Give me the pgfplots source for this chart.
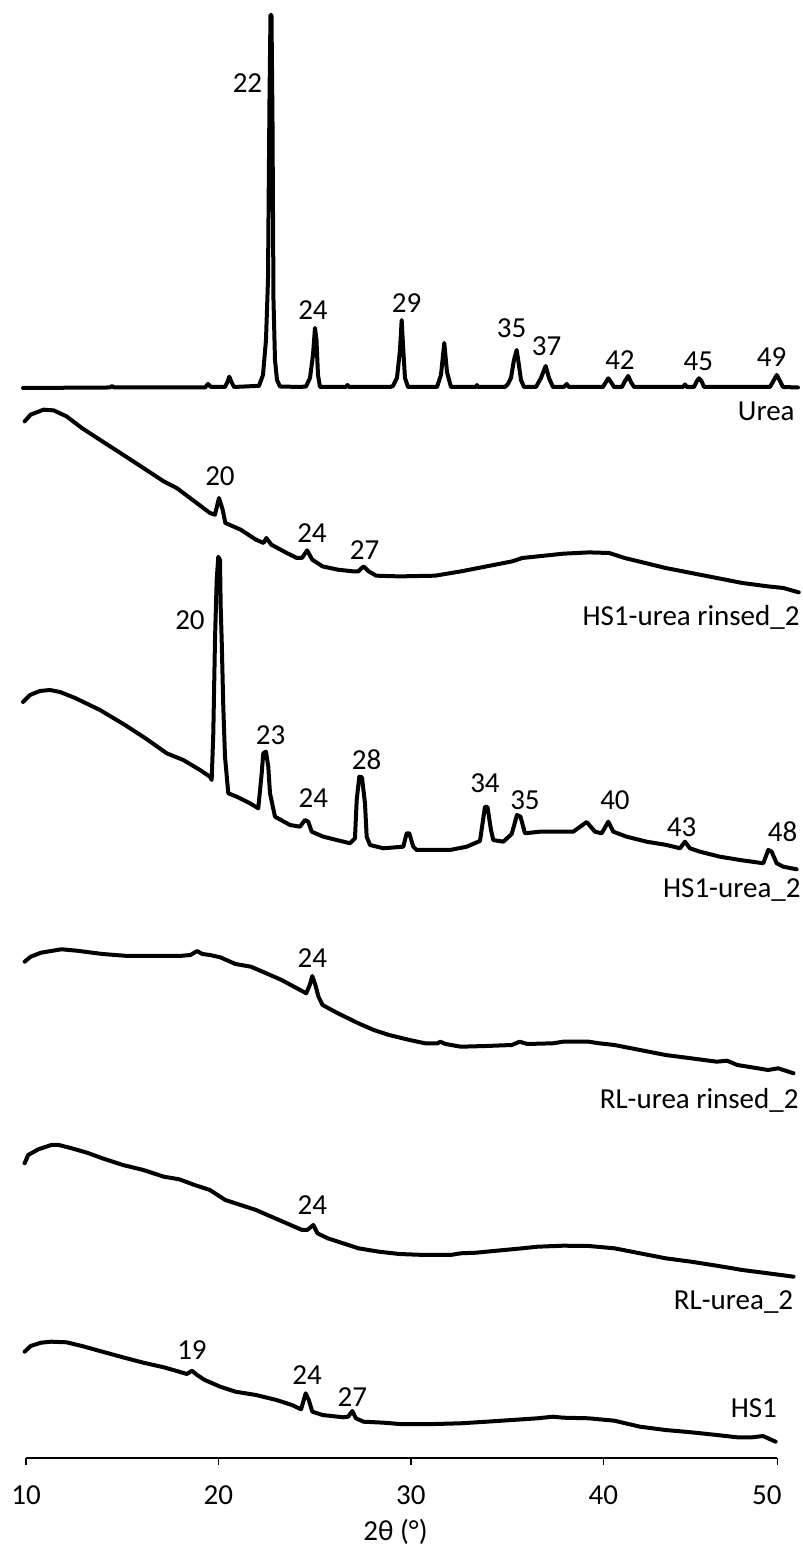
\documentclass[border=0pt]{standalone}
\usepackage{pgfplots}
\pgfplotsset{compat=1.18}
\usepackage{fontspec}
\setmainfont{Carlito}
\newcommand{\fs}{\fontsize{14.5}{17.4}\selectfont}
\begin{document}
\begin{tikzpicture}[lab/.style={font=\fs, inner sep=0pt, anchor=center}]
\begin{axis}[
  scale only axis, width=375.7pt, height=729pt,
  xmin=10, xmax=49.05, ymin=0, ymax=1458,
  clip=false,
  axis y line=none, axis x line=bottom,
  axis line style={-}, x axis line style={-, line width=0.75pt},
  xtick={10,20,30,40}, xticklabels={10,20,30,40},
  extra x ticks={49.05}, extra x tick labels={50},
  extra x tick style={xticklabel style={xshift=-5.3pt}},
  tick align=outside, major tick length=3.35pt,
  every tick/.style={black, line width=0.75pt},
  xticklabel style={font=\fs, anchor=center, yshift=-15pt},
  /pgf/number format/assume math mode=true,
  xlabel={2θ (°)},
  xlabel style={font=\fs, at={(axis description cs:0.4918,0)}, anchor=center, yshift=-37pt},
  sp/.style={black, solid, line width=2pt, line join=round, line cap=round, mark=none},
]
% Urea
\addplot[sp] coordinates {(9.844,1070)(14.365,1070.5)(14.469,1072)(14.573,1070.5)(19.302,1070.5)(19.458,1074)(19.614,1071)(20.342,1071)(20.471,1076)(20.565,1081.3)(20.680,1076)(20.809,1071)(21.381,1071.5)(21.901,1072)(22.108,1072)(22.316,1083)(22.472,1118)(22.576,1178)(22.654,1358)(22.706,1443)(22.758,1443)(22.810,1338)(22.862,1158)(22.940,1098)(23.044,1078)(23.200,1071.5)(24.239,1071)(24.551,1071.5)(24.759,1080)(24.915,1103)(25.019,1130)(25.096,1118)(25.175,1083)(25.278,1071)(26.630,1071)(26.708,1073)(26.786,1071)(28.916,1071)(29.072,1072)(29.280,1080)(29.436,1108)(29.524,1138)(29.592,1113)(29.696,1080)(29.852,1071)(31.359,1071)(31.566,1083)(31.738,1115)(31.878,1086)(32.086,1071)(33.385,1071)(33.437,1073)(33.489,1071)(34.892,1071)(35.048,1074)(35.204,1080)(35.360,1098)(35.500,1108)(35.594,1096)(35.724,1078)(35.880,1071)(36.503,1071)(36.763,1080)(37.008,1092)(37.179,1080)(37.387,1071)(37.958,1071)(38.099,1074)(38.218,1071)(39.985,1071)(40.141,1076)(40.261,1079.7)(40.401,1076)(40.557,1071)(40.972,1071)(41.128,1077)(41.300,1082)(41.440,1076)(41.596,1071)(44.142,1071)(44.246,1073.5)(44.350,1071)(44.714,1071)(44.870,1077)(44.974,1079.7)(45.104,1077)(45.234,1071)(48.664,1071)(48.871,1078)(49.012,1083)(49.158,1078)(49.339,1071)(50.119,1070.5)};
% HS1-urea rinsed_2
\addplot[sp] coordinates {(9.93,1036.6)(10.24,1043.3)(10.91,1048.3)(11.44,1047.6)(12.11,1041.6)(12.90,1030)(13.97,1016.6)(15.04,1003.3)(16.10,990)(17.16,976.6)(17.83,970)(18.76,956.6)(19.56,945)(19.82,943.3)(20.03,960)(20.22,948.3)(20.36,935)(21.16,928.3)(21.95,918.3)(22.35,915)(22.49,920)(22.75,913.3)(23.55,905)(24.08,900)(24.34,900)(24.61,907.6)(24.88,898.3)(25.41,891.6)(26.21,888.3)(27.01,886.6)(27.27,886.6)(27.54,891.6)(27.81,886.6)(28.20,882.3)(29.40,881.6)(31.26,882.3)(32.60,886.6)(33.93,891.6)(35.26,896.6)(35.79,900)(36.59,901.6)(37.92,904.3)(39.25,905.6)(40.31,905)(41.11,900)(42.18,895)(43.24,890)(44.57,885)(45.90,880)(47.23,875)(48.56,871.6)(49.36,870)(50.16,865.6)};
% HS1-urea_2
\addplot[sp] coordinates {(9.844,756)(10.208,763)(10.728,767)(11.247,768)(11.767,766)(12.547,760)(13.846,748)(15.145,733)(16.184,720)(16.704,713)(17.312,704.7)(18.174,698)(19.042,688)(19.562,681.3)(19.650,678)(19.734,724.7)(19.822,818)(19.910,878)(19.993,901.3)(20.082,898)(20.118,851.3)(20.170,818)(20.253,751.3)(20.342,701.3)(20.513,664.7)(20.950,661.3)(21.641,654.7)(22.072,649.7)(22.249,684.7)(22.332,704.7)(22.472,706.3)(22.592,691.3)(22.680,664.7)(22.940,641.3)(23.719,633)(24.239,631.3)(24.499,638)(24.671,636.3)(24.847,626.3)(25.450,621.3)(26.146,618)(26.837,614.7)(27.097,619.7)(27.186,658)(27.321,681.3)(27.461,680.7)(27.617,654.7)(27.705,621.3)(27.877,613)(28.568,609.7)(29.607,611.3)(29.784,624.7)(29.919,624.7)(30.127,611.3)(30.304,608)(32.034,608)(32.902,611.3)(33.593,617)(33.853,651.3)(33.983,651)(34.165,628)(34.285,618)(34.804,616.3)(35.241,624)(35.516,643)(35.698,641.3)(35.932,624.7)(36.711,626.3)(37.751,626.3)(38.442,626.3)(39.138,636)(39.569,626.3)(39.918,624.7)(40.261,636.3)(40.521,626.3)(41.217,621.3)(42.256,616.3)(43.295,613)(43.987,609.7)(44.246,616.3)(44.506,609.7)(45.026,606.3)(46.065,601.3)(47.105,598)(48.316,594.7)(48.575,608)(48.752,606.3)(49.012,594.7)(49.355,591.3)(50.051,588.7)};
% RL-urea rinsed_2
\addplot[sp] coordinates {(9.927,496.3)(10.244,501.3)(10.779,505.3)(11.310,507)(11.840,508.7)(12.640,507.3)(13.970,504)(15.301,502)(16.631,502)(17.961,502)(18.549,503)(18.892,507)(19.162,504)(19.557,503)(20.092,500.7)(20.887,494)(21.687,491.3)(22.488,484.7)(23.283,478)(24.083,469.7)(24.561,464.7)(24.748,473)(24.878,482)(25.039,473)(25.200,461.3)(25.413,453)(26.208,444.7)(27.274,434.7)(28.074,428)(28.869,423)(29.934,418)(30.735,414.7)(31.400,414.7)(31.530,416.3)(31.800,414)(32.595,411.3)(33.925,412)(35.256,413)(35.656,416.3)(36.056,414)(37.386,414.7)(37.916,416.3)(39.247,416.3)(39.782,414.7)(40.577,413)(41.907,408)(43.238,403)(44.568,399.7)(45.898,396.3)(46.434,397.3)(46.964,393)(48.029,389.7)(48.559,388)(49.094,389.7)(49.359,388)(49.889,384.7)};
% RL-urea_2
\addplot[sp] coordinates {(9.927,294.7)(10.114,303)(10.644,308.7)(11.310,313)(11.710,313)(12.375,309.7)(13.170,305.3)(13.970,299.7)(15.036,293)(16.101,288)(17.161,281.3)(17.961,278.7)(18.762,273)(19.557,268)(20.357,258)(21.157,253)(21.952,248)(22.753,241.3)(23.548,234.7)(24.348,228)(24.613,228)(24.935,233)(25.148,224.7)(25.678,219.7)(26.478,214.7)(27.274,209.7)(28.339,206.3)(29.404,204)(30.735,203)(32.065,203)(32.595,204.7)(33.395,205.3)(34.461,207.3)(35.256,208.7)(35.791,209.7)(36.586,211.3)(37.916,212.3)(39.247,212)(40.577,209.7)(41.907,204.7)(43.238,199.7)(44.568,196.3)(45.898,192.3)(47.229,188)(48.559,184.7)(49.889,181.3)};
% HS1
\addplot[sp] coordinates {(9.927,106.3)(10.244,112)(10.779,115.3)(11.310,116.3)(12.110,115.7)(12.905,112)(13.970,106.3)(15.036,100.7)(16.101,95.3)(17.161,90.7)(17.961,86.3)(18.361,84)(18.626,87.3)(18.892,83)(19.291,78)(20.092,71.3)(20.887,66.3)(21.952,63)(23.018,58)(23.818,53)(24.296,48.7)(24.535,64.7)(24.696,58)(24.878,46.3)(25.413,43)(26.478,40.7)(26.744,41.3)(26.957,47)(27.144,39.7)(27.539,36.3)(28.604,35.3)(29.404,34)(31.265,34)(32.595,34.7)(33.925,36.3)(35.256,38)(36.586,39.7)(37.386,41.3)(37.916,40.3)(39.247,39.7)(40.577,37.3)(41.907,31.3)(43.238,28)(44.568,25.7)(45.898,23)(46.964,20.7)(47.764,20.7)(48.294,22)(48.959,16.3)};
% peak labels
\node[lab] at (axis cs:21.511,1375) {22};
\node[lab] at (axis cs:24.915,1148) {24};
\node[lab] at (axis cs:29.784,1155) {29};
\node[lab] at (axis cs:35.240,1130) {35};
\node[lab] at (axis cs:37.059,1111.3) {37};
\node[lab] at (axis cs:40.869,1098) {42};
\node[lab] at (axis cs:44.938,1096.3) {45};
\node[lab] at (axis cs:48.752,1101.3) {49};
\node[lab, anchor=east] at (axis cs:49.963,1046.3) {Urea};
\node[lab] at (axis cs:20.081,981.3) {20};
\node[lab] at (axis cs:24.863,925) {24};
\node[lab] at (axis cs:27.596,908) {27};
\node[lab, anchor=east] at (axis cs:50.223,841) {HS1-urea rinsed\_2};
\node[lab] at (axis cs:18.522,838) {20};
\node[lab] at (axis cs:22.716,723) {23};
\node[lab] at (axis cs:24.930,659.7) {24};
\node[lab] at (axis cs:27.705,698) {28};
\node[lab] at (axis cs:33.853,674.7) {34};
\node[lab] at (axis cs:35.932,658) {35};
\node[lab] at (axis cs:40.609,658) {40};
\node[lab] at (axis cs:44.075,631.3) {43};
\node[lab] at (axis cs:49.323,626.3) {48};
\node[lab, anchor=east] at (axis cs:50.274,568) {HS1-urea\_2};
\node[lab] at (axis cs:24.878,499.7) {24};
\node[lab, anchor=east] at (axis cs:50.171,358) {RL-urea rinsed\_2};
\node[lab] at (axis cs:24.878,253) {24};
\node[lab, anchor=east] at (axis cs:49.890,156.3) {RL-urea\_2};
\node[lab] at (axis cs:18.626,108) {19};
\node[lab] at (axis cs:24.613,83) {24};
\node[lab] at (axis cs:26.957,61.3) {27};
\node[lab, anchor=east] at (axis cs:49.043,49.7) {HS1};
\coordinate (bbBL) at (axis cs:8.649,-88);
\coordinate (bbTR) at (axis cs:50.378,1458);
\end{axis}
\pgfresetboundingbox
\path (bbBL) rectangle (bbTR);
\end{tikzpicture}
\end{document}
